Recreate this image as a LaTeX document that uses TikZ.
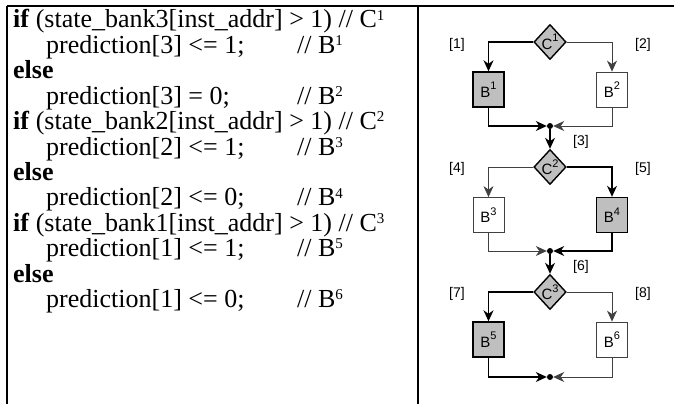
\documentclass[tikz,border=0pt]{standalone}
\usepackage{fontspec}
\setmainfont{Liberation Serif}
\newfontfamily\flowfont{Liberation Sans}
\usetikzlibrary{shapes.geometric, arrows.meta}
\newcommand{\flowsup}[1]{\raisebox{0.5em}{\fontsize{11}{12}\selectfont #1}}
\newcommand{\codesup}[1]{\raisebox{0.3em}{\fontsize{15}{16}\selectfont #1}}
\tikzstyle{codeline} = [
    anchor=base west,
    inner sep=0pt,
    text height=16pt,
    text depth=5pt,
    font=\fontsize{26}{27}\selectfont
]
\tikzstyle{cond} = [
    diamond,
    draw=black,
    fill=gray!50,
    line width=1.4pt,
    minimum width=32pt,
    minimum height=35pt,
    inner sep=0pt,
    font=\flowfont\fontsize{15}{16}\selectfont
]
\tikzstyle{hotblock} = [
    rectangle,
    draw=black,
    fill=gray!50,
    line width=1.4pt,
    minimum width=31pt,
    minimum height=35pt,
    inner sep=0pt,
    font=\flowfont\fontsize{15}{16}\selectfont
]
\tikzstyle{coldblock} = [
    rectangle,
    draw=black!75,
    fill=white,
    line width=0.8pt,
    minimum width=31pt,
    minimum height=35pt,
    inner sep=0pt,
    font=\flowfont\fontsize{15}{16}\selectfont
]
\tikzstyle{joint} = [circle, fill=black, minimum size=6pt, inner sep=0pt]
\tikzstyle{pathlabel} = [inner sep=0pt, font=\flowfont\fontsize{14}{16}\selectfont]
\tikzstyle{hotarrow} = [line width=1.4pt, ->, >={Stealth[length=11pt, width=10pt, inset=3.5pt]}]
\tikzstyle{coldarrow} = [draw=black!75, line width=0.8pt, ->, >={Stealth[length=11pt, width=10pt, inset=3.5pt]}]
\tikzstyle{frame} = [line width=1.8pt]

\begin{document}
\begin{tikzpicture}[x=1pt, y=-1pt]
\useasboundingbox (0,0) rectangle (674,404);

% table frame
\draw [frame] (7,6) -- (674,6);
\draw [frame] (7,6) -- (7,404);
\draw [frame] (418,6) -- (418,404);

% code column
\node (if1) [codeline] at (13,28) {\textbf{if} (state\_bank3[inst\_addr] > 1) // C\codesup{1}};
\node (then1) [codeline] at (46,53.4) {prediction[3] <= 1;};
\node (else1) [codeline] at (13,78.8) {\textbf{else}};
\node (other1) [codeline] at (46,104.2) {prediction[3] = 0;};
\node (if2) [codeline] at (13,129.6) {\textbf{if} (state\_bank2[inst\_addr] > 1) // C\codesup{2}};
\node (then2) [codeline] at (46,155) {prediction[2] <= 1;};
\node (else2) [codeline] at (13,180.4) {\textbf{else}};
\node (other2) [codeline] at (46,205.8) {prediction[2] <= 0;};
\node (if3) [codeline] at (13,231.2) {\textbf{if} (state\_bank1[inst\_addr] > 1) // C\codesup{3}};
\node (then3) [codeline] at (46,256.6) {prediction[1] <= 1;};
\node (else3) [codeline] at (13,282) {\textbf{else}};
\node (other3) [codeline] at (46,307.4) {prediction[1] <= 0;};

% block comments
\node (note1) [codeline] at (297,53.4) {// B\codesup{1}};
\node (note2) [codeline] at (297,104.2) {// B\codesup{2}};
\node (note3) [codeline] at (297,155) {// B\codesup{3}};
\node (note4) [codeline] at (297,205.8) {// B\codesup{4}};
\node (note5) [codeline] at (297,256.6) {// B\codesup{5}};
\node (note6) [codeline] at (297,307.4) {// B\codesup{6}};

% flow graph
\node (c1) [cond] at (550,42) {C\flowsup{1}};
\node (b1) [hotblock] at (488.5,89.5) {B\flowsup{1}};
\node (b2) [coldblock] at (612,89.5) {B\flowsup{2}};
\node (j1) [joint] at (550,126) {};

\node (c2) [cond] at (550,167) {C\flowsup{2}};
\node (b3) [coldblock] at (488.5,215) {B\flowsup{3}};
\node (b4) [hotblock] at (612,215) {B\flowsup{4}};
\node (j2) [joint] at (550,251) {};

\node (c3) [cond] at (550,292) {C\flowsup{3}};
\node (b5) [hotblock] at (488.5,339.5) {B\flowsup{5}};
\node (b6) [coldblock] at (612,339.5) {B\flowsup{6}};
\node (j3) [joint] at (550,377) {};

\node (l1) [pathlabel] at (457,45) {[1]};
\node (l2) [pathlabel] at (643,45) {[2]};
\node (l3) [pathlabel] at (581,142) {[3]};
\node (l4) [pathlabel] at (457,169) {[4]};
\node (l5) [pathlabel] at (643,169) {[5]};
\node (l6) [pathlabel] at (581,267) {[6]};
\node (l7) [pathlabel] at (457,294) {[7]};
\node (l8) [pathlabel] at (643,294) {[8]};

\draw [hotarrow] (c1.west) -| (b1.north);
\draw [coldarrow] (c1.east) -| (b2.north);
\draw [hotarrow] (b1.south) |- (j1.west);
\draw [coldarrow] (b2.south) |- (j1.east);
\draw [hotarrow] (j1) -- (c2.north);

\draw [coldarrow] (c2.west) -| (b3.north);
\draw [hotarrow] (c2.east) -| (b4.north);
\draw [coldarrow] (b3.south) |- (j2.west);
\draw [hotarrow] (b4.south) |- (j2.east);
\draw [hotarrow] (j2) -- (c3.north);

\draw [hotarrow] (c3.west) -| (b5.north);
\draw [coldarrow] (c3.east) -| (b6.north);
\draw [hotarrow] (b5.south) |- (j3.west);
\draw [coldarrow] (b6.south) |- (j3.east);

\end{tikzpicture}
\end{document}
